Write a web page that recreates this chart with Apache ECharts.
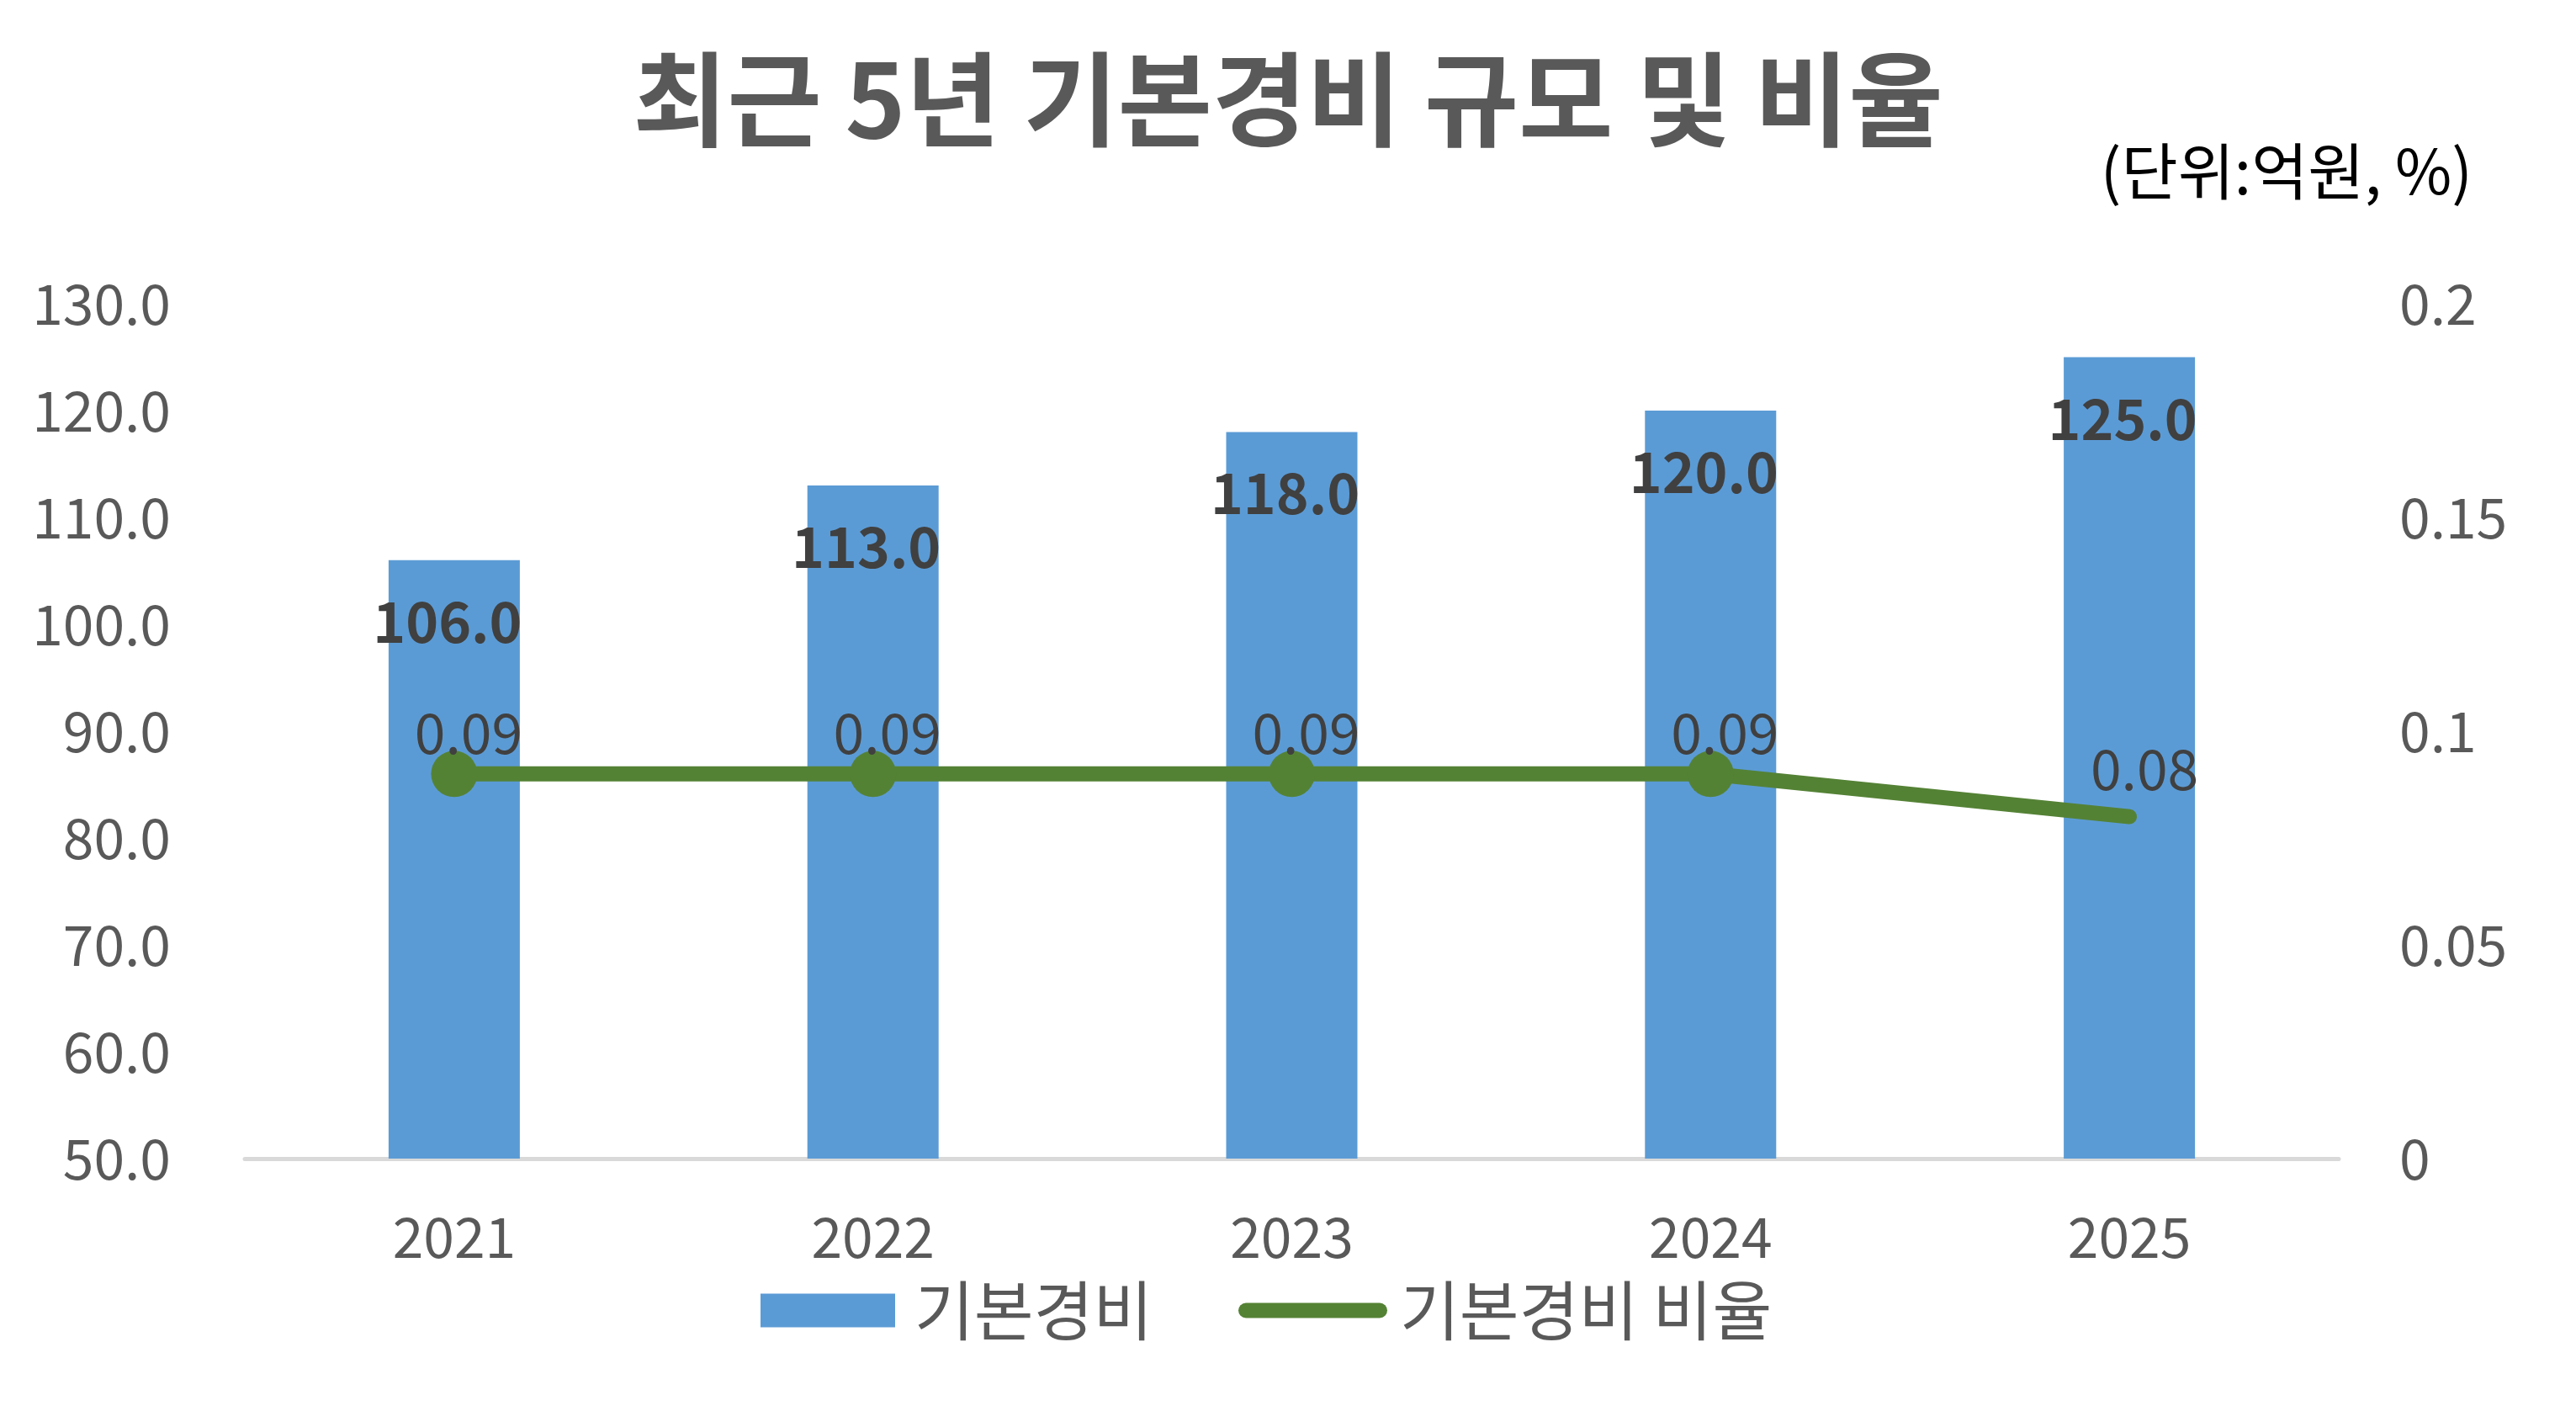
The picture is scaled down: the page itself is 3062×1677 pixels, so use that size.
<!DOCTYPE html>
<html>
<head>
<meta charset="utf-8">
<script src="https://cdn.jsdelivr.net/npm/echarts@6/dist/echarts.min.js"></script>
<style>
html, body { margin: 0; padding: 0; background: #ffffff; }
#chart { width: 3062px; height: 1677px; }
</style>
</head>
<body>
<div id="chart"></div>
<script>
// 카테고리 / 값
var years = ['2021', '2022', '2023', '2024', '2025'];
var expense = [106.0, 113.0, 118.0, 120.0, 125.0];   // 기본경비 (억원)
var ratio = [0.09, 0.09, 0.09, 0.09, 0.08];          // 기본경비 비율 (%)
var leftTicks = [50, 130, 10];      // min, max, interval
var rightTicks = [0, 0.2, 0.05];

var font = '"Noto Sans CJK KR", "Noto Sans", sans-serif';
var chart = echarts.init(document.getElementById('chart'));

// 마지막 점은 마커 없이 라벨만
var ratioData = ratio.map(function (v, i) {
    if (i === ratio.length - 1) {
        return { value: v, symbolSize: 0, label: { offset: [18, -57] } };
    }
    return v;
});

var option = {
    backgroundColor: '#ffffff',
    textStyle: { fontFamily: font },
    animation: false,
    title: [{
        text: '최근 5년 기본경비 규모 및 비율',
        left: 'center',
        top: 52,
        textStyle: { fontSize: 122, fontWeight: 'bold', color: '#595959', fontFamily: font }
    }, {
        text: '(단위:억원, %)',
        right: 118,
        top: 162,
        textStyle: { fontSize: 73, fontWeight: 'normal', color: '#000000', fontFamily: font }
    }],
    legend: [{
        data: ['기본경비'],
        left: 904,
        top: 1519,
        padding: 0,
        itemWidth: 160,
        itemHeight: 40,
        icon: 'rect',
        textStyle: { fontSize: 77, color: '#595959', padding: [0, 0, 0, 18] }
    }, {
        data: ['기본경비 비율'],
        left: 1472,
        top: 1519,
        padding: 0,
        itemWidth: 177,
        itemHeight: 18,
        icon: 'path://M9,0 L168,0 A9,9 0 0 1 168,18 L9,18 A9,9 0 0 1 9,0 Z',
        textStyle: { fontSize: 77, color: '#595959', padding: [0, 0, 0, 10] }
    }],
    grid: { left: 291, right: 282, top: 361, bottom: 300 },
    xAxis: {
        type: 'category',
        data: years,
        axisLine: { lineStyle: { color: '#d9d9d9', width: 5 } },
        axisTick: { show: false },
        axisLabel: { fontSize: 66, color: '#595959', margin: 60 }
    },
    yAxis: [{
        type: 'value',
        min: leftTicks[0],
        max: leftTicks[1],
        interval: leftTicks[2],
        splitLine: { show: false },
        axisLine: { show: false },
        axisTick: { show: false },
        axisLabel: {
            fontSize: 66, color: '#595959', margin: 88,
            formatter: function (v) { return v.toFixed(1); }
        }
    }, {
        type: 'value',
        min: rightTicks[0],
        max: rightTicks[1],
        interval: rightTicks[2],
        splitLine: { show: false },
        axisLine: { show: false },
        axisTick: { show: false },
        axisLabel: { fontSize: 66, color: '#595959', margin: 72 }
    }],
    series: [{
        name: '기본경비',
        type: 'bar',
        data: expense,
        barWidth: 156,
        itemStyle: { color: '#5b9bd5' },
        label: {
            show: true,
            position: 'insideTop',
            distance: 40,
            offset: [-8, 0],
            fontSize: 66,
            fontWeight: 'bold',
            color: '#404040',
            formatter: function (p) { return p.value.toFixed(1); }
        }
    }, {
        name: '기본경비 비율',
        type: 'line',
        yAxisIndex: 1,
        data: ratioData,
        symbol: 'circle',
        symbolSize: 55,
        lineStyle: { color: '#548235', width: 18, cap: 'round' },
        itemStyle: { color: '#548235' },
        label: {
            show: true,
            position: 'inside',
            offset: [17, -49],
            fontSize: 66,
            color: '#404040'
        }
    }]
};

chart.setOption(option);
</script>
</body>
</html>
